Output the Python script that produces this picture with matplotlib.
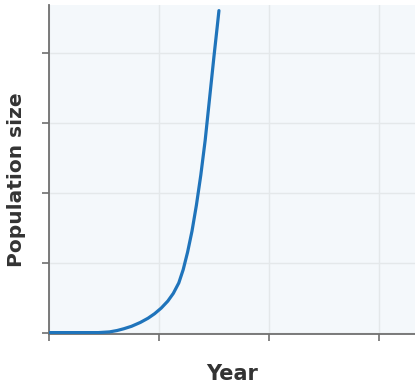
import matplotlib.pyplot as plt

# values (arbitrary units)
years = [0.0, 0.3, 0.45, 0.55, 0.62, 0.68, 0.75, 0.83, 0.90, 0.96, 1.02, 1.08,
         1.13, 1.18, 1.22, 1.26, 1.30, 1.34, 1.38, 1.42, 1.46, 1.50, 1.53, 1.545]
population = [0.0, 0.0, 0.0, 0.01, 0.03, 0.055, 0.09, 0.145, 0.205, 0.27, 0.35, 0.45,
              0.56, 0.71, 0.90, 1.15, 1.45, 1.82, 2.25, 2.75, 3.35, 3.95, 4.38, 4.60]
x_ticks = [0, 1, 2, 3]
y_ticks = [0, 1, 2, 3, 4]

fig = plt.figure(figsize=(4.15, 3.9), dpi=100)
ax = fig.add_axes([49 / 415, 56 / 390, 1 - 49 / 415, 329 / 390])
ax.set_facecolor("#f4f8fb")

ax.plot(years, population, color="#1f74bb", linewidth=2.3,
        solid_capstyle="round", solid_joinstyle="round", zorder=3)

ax.set_xlim(0, 366 / 110)
ax.set_ylim(-0.02, 329 / 70 - 0.02)
ax.set_xticks(x_ticks)
ax.set_yticks(y_ticks)
ax.set_xticklabels([])
ax.set_yticklabels([])
ax.grid(True, color="#e4e8ea", linewidth=1.0)
ax.set_axisbelow(True)

for side in ["top", "right"]:
    ax.spines[side].set_visible(False)
for side in ["left", "bottom"]:
    ax.spines[side].set_color("#707070")
    ax.spines[side].set_linewidth(1.3)
ax.tick_params(direction="out", length=5, width=1.2, color="#707070")

ax.set_xlabel("Year", fontsize=15, fontweight="bold", color="#333333")
ax.set_ylabel("Population size", fontsize=14.5, fontweight="bold", color="#333333")
ax.xaxis.set_label_coords(0.5, -0.092)
ax.yaxis.set_label_coords(-0.063, 0.468)

fig.savefig("out.png", dpi=100)
